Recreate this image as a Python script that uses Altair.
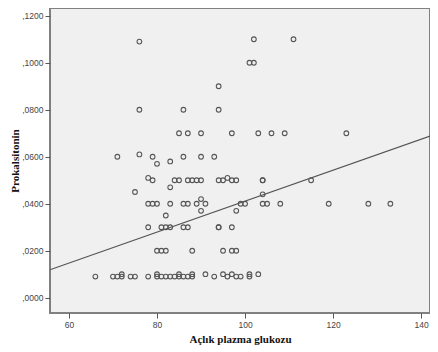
import altair as alt
import pandas as pd

# Scatter data (x: Açlık plazma glukozu, y: Prokalsitonin)
glucose = [
    66, 70, 71, 72, 72, 74, 75, 78, 80, 80, 81, 82, 83, 84, 85, 85, 86, 87, 88, 88,
    91, 93, 95, 96, 97, 98, 99, 101, 101, 103,
    80, 81, 82, 88, 95, 97, 98,
    78, 81, 82, 83, 86, 87, 94, 94, 97,
    82, 90, 98,
    78, 79, 80, 83, 86, 87, 89, 91, 99, 100, 104, 105, 108, 119, 128, 133, 90,
    104, 75, 83,
    78, 79, 84, 85, 87, 88, 89, 90, 94, 95, 96, 97, 98, 104, 104, 115,
    80, 83,
    71, 79, 86, 90, 93, 76,
    85, 87, 90, 97, 103, 106, 109, 123,
    76, 86, 94, 94,
    101, 102, 76, 102, 111,
]
procalcitonin = [
    0.009, 0.009, 0.009, 0.009, 0.010, 0.009, 0.009, 0.009, 0.009, 0.010, 0.009, 0.009, 0.009, 0.009, 0.009, 0.010, 0.009, 0.009, 0.009, 0.010,
    0.010, 0.009, 0.010, 0.009, 0.010, 0.009, 0.009, 0.009, 0.010, 0.010,
    0.020, 0.020, 0.020, 0.020, 0.020, 0.020, 0.020,
    0.030, 0.030, 0.030, 0.030, 0.030, 0.030, 0.030, 0.030, 0.030,
    0.035, 0.037, 0.037,
    0.040, 0.040, 0.040, 0.040, 0.040, 0.040, 0.040, 0.040, 0.040, 0.040, 0.040, 0.040, 0.040, 0.040, 0.040, 0.040, 0.042,
    0.044, 0.045, 0.047,
    0.051, 0.050, 0.050, 0.050, 0.050, 0.050, 0.050, 0.050, 0.050, 0.050, 0.051, 0.050, 0.050, 0.050, 0.050, 0.050,
    0.057, 0.058,
    0.060, 0.060, 0.060, 0.060, 0.060, 0.061,
    0.070, 0.070, 0.070, 0.070, 0.070, 0.070, 0.070, 0.070,
    0.080, 0.080, 0.080, 0.090,
    0.100, 0.100, 0.109, 0.110, 0.110,
]

# Fit line (as drawn in the reference)
fit_intercept = -0.0248
fit_slope = 0.000659

x_domain = [55.7, 142.0]
y_domain = [-0.0065, 0.1233]
x_ticks = [60, 80, 100, 120, 140]
y_ticks = [0.0, 0.02, 0.04, 0.06, 0.08, 0.10, 0.12]

df = pd.DataFrame({"x": glucose, "y": procalcitonin})
line_df = pd.DataFrame({
    "x": x_domain,
    "y": [fit_intercept + fit_slope * v for v in x_domain],
})

xscale = alt.Scale(domain=x_domain, nice=False, zero=False)
yscale = alt.Scale(domain=y_domain, nice=False, zero=False)

xaxis = alt.Axis(
    title="Açlık plazma glukozu", values=x_ticks, grid=False, domain=False,
    tickSize=5, tickColor="#555555", labelColor="#444444", labelFontSize=8.5,
    labelFont="Liberation Sans", titleFont="Liberation Serif", titleFontSize=11,
    titleFontWeight="bold", titleColor="#111111", labelPadding=2, titlePadding=5,
)
yaxis = alt.Axis(
    title="Prokalsitonin", values=y_ticks, grid=False, domain=False,
    tickSize=5, tickColor="#555555", labelColor="#444444", labelFontSize=8.5,
    labelFont="Liberation Sans", titleFont="Liberation Serif", titleFontSize=11,
    titleFontWeight="bold", titleColor="#111111", labelPadding=2, titlePadding=1,
    labelExpr="',' + substring(format(datum.value, '.4f'), 2)",
)

points = alt.Chart(df).mark_point(
    shape="circle", filled=False, size=22, stroke="#555555", strokeWidth=1.1, opacity=1
).encode(
    x=alt.X("x:Q", scale=xscale, axis=xaxis),
    y=alt.Y("y:Q", scale=yscale, axis=yaxis),
)

fit = alt.Chart(line_df).mark_line(color="#555555", strokeWidth=1.1).encode(
    x=alt.X("x:Q", scale=xscale),
    y=alt.Y("y:Q", scale=yscale),
)

chart = alt.layer(fit, points).properties(
    width=380, height=305,
    autosize=alt.AutoSizeParams(type="none"),
    padding={"left": 42, "top": 0, "right": 0, "bottom": 39},
    background="white",
).configure_view(
    fill="#f0f0f0", stroke="#808080", strokeWidth=2,
)

chart.save("out.html", embed_options={"renderer": "svg", "actions": False})
